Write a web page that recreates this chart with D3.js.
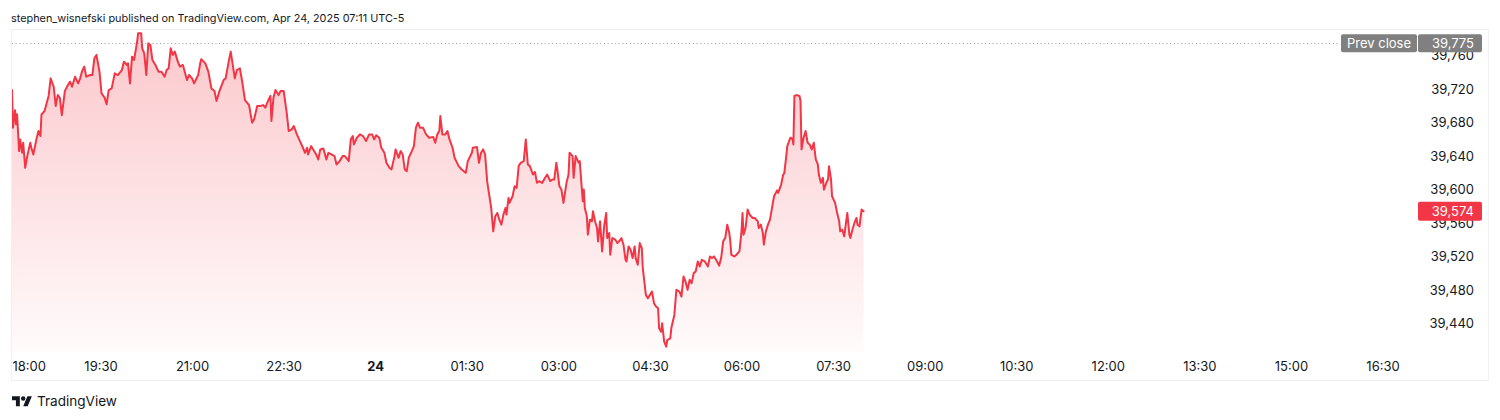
<!DOCTYPE html>
<html><head><meta charset="utf-8">
<script src="https://cdn.jsdelivr.net/npm/d3@7"></script>
<style>
html,body{margin:0;padding:0;background:#fff;}
svg{display:block;font-family:Inter,"Noto Sans",sans-serif;}
</style>
</head><body>
<svg id="chart" width="1500" height="420"></svg>
<script>
// ---- data ----
const headerText = "stephen_wisnefski published on TradingView.com, Apr 24, 2025 07:11 UTC-5";
const brandText = "TradingView";
const prevCloseLabel = "Prev close";
const prevClose = 39775;
const lastPrice = 39574;
const yTickValues = [39440, 39480, 39520, 39560, 39600, 39640, 39680, 39720, 39760];
const xTickLabels = ["18:00","19:30","21:00","22:30","24","01:30","03:00","04:30","06:00","07:30","09:00","10:30","12:00","13:30","15:00","16:30"];
// minutes after the 18:00 session open (Apr 23)
const minutesFromOpen = [
  3,4,6,7,8,10,11,13,14,16,
  18,21,22,24,27,29,31,32,35,39,
  41,44,46,48,50,52,55,58,60,62,
  65,68,70,72,74,76,80,82,84,86,
  89,91,94,96,98,101,104,107,111,113,
  116,117,119,121,123,126,127,130,131,133,
  135,137,139,141,144,147,150,153,155,157,
  159,161,163,166,168,171,175,177,180,182,
  186,188,189,193,196,199,202,204,207,211,
  213,216,218,221,222,224,227,229,232,236,
  239,241,244,247,250,252,255,257,258,260,
  262,265,267,270,273,275,278,280,
  283,286,289,291,293,294,297,299,302,304,
  306,309,312,314,317,320,322,325,328,330,
  333,334,336,338,339,342,345,348,351,354,
  357,359,361,364,366,369,371,374,376,379,
  380,383,385,387,389,391,393,396,398,400,
  402,404,407,410,413,417,419,421,423,424,
  426,429,431,433,436,438,442,445,447,449,
  451,455,456,460,462,464,466,468,470,472,
  474,476,478,480,482,484,486,488,489,491,
  492,495,497,499,501,503,506,508,510,512,
  515,517,519,521,524,527,529,532,534,536,
  538,539,541,543,545,548,550,551,554,555,
  557,560,561,
  563,564,565,566,568,569,571,573,574,576,
  578,579,581,583,585,587,588,590,591,593,
  596,598,601,602,604,606,607,609,611,613,
  615,616,618,620,622,623,626,628,630,632,
  634,636,638,639,641,642,644,646,647,650,
  651,654,656,659,661,663,665,667,669,671,
  673,675,677,679,681,684,687,689,691,693,
  696,698,700,702,704,706,708,709,710,713,
  715,718,720,721,722,724,726,728,731,733,
  736,737,739,741,742,744,746,748,750,752,
  755,756,759,761,762,764,765,768,770,771,
  772,774,777,778,779,781,783,785,787,789,
  791,793,795,796,798,800,801,804,805,806,
  808,809,812,814,816,817,819,821,822,824,
  826,827,829,831,833,834,836,838,840
];
const prices = [
  39719,39674,39695,39678,39690,39646,39660,39644,39656,39626,
  39640,39656,39650,39642,39660,39670,39664,39690,39694,39712,
  39733,39723,39700,39713,39710,39689,39718,39725,39729,39723,
  39735,39727,39733,39742,39747,39735,39737,39737,39757,39761,
  39741,39715,39710,39702,39719,39721,39739,39737,39743,39753,
  39749,39751,39727,39759,39755,39777,39787,39787,39769,39763,
  39737,39775,39773,39755,39749,39741,39741,39735,39743,39745,
  39769,39761,39765,39753,39747,39749,39731,39737,39733,39727,
  39737,39751,39756,39751,39741,39721,39718,39706,39718,39731,
  39733,39753,39765,39741,39733,39743,39745,39731,39707,39701,
  39680,39684,39700,39700,39701,39698,39707,39712,39682,39710,
  39719,39713,39718,39718,39692,39670,39672,39676,
  39666,39658,39650,39644,39650,39642,39652,39648,39642,39636,
  39648,39649,39636,39644,39642,39640,39630,39634,39640,39640,
  39636,39634,39660,39664,39654,39662,39666,39664,39658,39666,
  39666,39660,39665,39662,39650,39644,39632,39626,39624,39640,
  39648,39638,39646,39642,39624,39622,39638,39646,39652,39674,
  39680,39674,39674,39666,39662,39663,39656,39666,39670,39688,
  39666,39666,39670,39660,39650,39638,39628,39624,39622,39620,
  39634,39644,39650,39651,39632,39644,39648,39642,39610,39594,
  39578,39550,39568,39572,39564,39558,39570,39578,39570,39590,
  39584,39592,39604,39602,39628,39632,39634,39660,39630,39628,
  39618,39621,39608,39610,39608,39614,39618,39610,39612,39612,
  39632,39624,39604,39600,39584,39608,39618,39644,39640,39614,
  39640,39632,39634,
  39602,39586,39600,39578,39568,39546,39564,39562,39574,39562,
  39554,39538,39562,39526,39556,39572,39542,39548,39522,39542,
  39540,39536,39540,39542,39534,39516,39514,39532,39528,39518,
  39532,39518,39510,39536,39530,39506,39474,39470,39474,39478,
  39464,39460,39458,39434,39430,39440,39418,39412,39420,39422,
  39434,39450,39480,39478,39472,39496,39490,39480,39492,39488,
  39500,39502,39514,39508,39516,39514,39508,39520,39518,39520,
  39514,39509,39518,39538,39542,39558,39548,39538,39522,39520,
  39522,39526,39550,39572,39546,39554,39576,39570,39566,39566,
  39562,39554,39558,39548,39534,39550,39558,39564,39578,39592,
  39599,39596,39606,39618,39619,39640,39652,39662,39661,39654,
  39712,39713,39712,39706,39648,39662,39670,39656,39654,39648,
  39656,39636,39630,39618,39608,39614,39600,39610,39612,39628,
  39612,39592,39584,39572,39562,39550,39552,39544,39554,39572,
  39546,39542,39552,39560,39566,39558,39556,39576,39574
];

// ---- layout ----
const W = 1500, H = 420;
const frame = {left: 11, top: 29, right: 1489, bottom: 381};
const pane = {left: 11, top: 29, right: 1418, bottom: 352};
const textColor = "#131722";
const red = "#f23645";

const svg = d3.select("#chart");
const sessionOpen = new Date(2025, 3, 23, 18, 0);
const addMin = (m) => new Date(sessionOpen.getTime() + m * 60000);
const data = minutesFromOpen.map((m, i) => ({t: addMin(m), p: prices[i]}));

const x = d3.scaleTime().domain([sessionOpen, addMin(1350)]).range([8.93, 1382.5]);
const y = d3.scaleLinear().domain([39440, 39760]).range([323.3, 55.8]);

// header
const header = svg.append("text").attr("x", 11).attr("y", 21.5)
  .attr("fill", textColor).attr("font-size", 13).text(headerText);
function fit(sel, target) {
  const w = sel.node().getComputedTextLength();
  const fs = +sel.attr("font-size");
  sel.attr("font-size", fs * target / w);
}
fit(header, 394);

// frame
svg.append("rect").attr("x", frame.left + 0.5).attr("y", frame.top + 0.5)
  .attr("width", frame.right - frame.left - 1).attr("height", frame.bottom - frame.top - 1)
  .attr("fill", "none").attr("stroke", "#eef0f3").attr("stroke-width", 1);

// clip
const defs = svg.append("defs");
defs.append("clipPath").attr("id", "paneClip").append("rect")
  .attr("x", pane.left + 1).attr("y", pane.top + 1)
  .attr("width", pane.right - pane.left - 1).attr("height", pane.bottom - pane.top - 1);
const grad = defs.append("linearGradient").attr("id", "areaGrad")
  .attr("gradientUnits", "userSpaceOnUse").attr("x1", 0).attr("x2", 0)
  .attr("y1", pane.top).attr("y2", pane.bottom);
grad.append("stop").attr("offset", 0).attr("stop-color", red).attr("stop-opacity", 0.28);
grad.append("stop").attr("offset", 1).attr("stop-color", red).attr("stop-opacity", 0.02);

const plot = svg.append("g").attr("clip-path", "url(#paneClip)");

plot.append("path").datum(data)
  .attr("fill", "url(#areaGrad)")
  .attr("d", d3.area().x(d => x(d.t)).y0(pane.bottom).y1(d => y(d.p)));

plot.append("path").datum(data)
  .attr("fill", "none").attr("stroke", red).attr("stroke-width", 2)
  .attr("stroke-linejoin", "round").attr("stroke-linecap", "round")
  .attr("d", d3.line().x(d => x(d.t)).y(d => y(d.p)));

// prev close dotted line
const pcY = Math.round(y(prevClose)) + 0.5;
svg.append("line").attr("x1", pane.left + 1).attr("x2", 1340).attr("y1", pcY).attr("y2", pcY)
  .attr("stroke", "#9a9ca3").attr("stroke-width", 1).attr("stroke-dasharray", "1,2.7");

// x axis
const xTickDates = xTickLabels.map((_, i) => addMin(i * 90));
const xAxis = svg.append("g").attr("transform", `translate(0,${pane.bottom})`)
  .call(d3.axisBottom(x).tickValues(xTickDates).tickFormat((d, i) => xTickLabels[i]).tickSize(0).tickPadding(0));
xAxis.select(".domain").remove();
xAxis.selectAll("text").attr("fill", textColor).attr("font-size", 13)
  .attr("font-family", "Inter, 'Noto Sans', sans-serif")
  .attr("dy", null).attr("y", 19)
  .attr("font-weight", (d, i) => xTickLabels[i] === "24" ? 700 : 400);
// keep first label inside the pane, as TradingView does
xAxis.selectAll(".tick").each(function(d, i) {
  const t = d3.select(this).select("text");
  const w = t.node().getComputedTextLength();
  const cx = x(d);
  if (cx - w / 2 < pane.left + 1) t.attr("x", pane.left + 1 + w / 2 - cx);
});

// y axis
const yAxis = svg.append("g").attr("transform", "translate(1474,0)")
  .call(d3.axisRight(y).tickValues(yTickValues).tickFormat(d3.format(",")).tickSize(0).tickPadding(0));
yAxis.select(".domain").remove();
yAxis.selectAll("text").attr("fill", textColor).attr("font-size", 13)
  .attr("font-family", "Inter, 'Noto Sans', sans-serif")
  .attr("text-anchor", "end").attr("x", 0);

// prev close labels
const pcG = svg.append("g");
pcG.append("rect").attr("x", 1341).attr("y", y(prevClose) - 9).attr("width", 76).attr("height", 18)
  .attr("rx", 2).attr("fill", "#808080");
pcG.append("rect").attr("x", 1418).attr("y", y(prevClose) - 9).attr("width", 64).attr("height", 18)
  .attr("rx", 2).attr("fill", "#808080");
pcG.append("text").attr("x", 1379).attr("y", y(prevClose)).attr("dy", "0.35em")
  .attr("text-anchor", "middle").attr("fill", "#fff").attr("font-size", 13).text(prevCloseLabel);
pcG.append("text").attr("x", 1474).attr("y", y(prevClose)).attr("dy", "0.35em")
  .attr("text-anchor", "end").attr("fill", "#fff").attr("font-size", 13).text(d3.format(",")(prevClose));

// last price label
const lpG = svg.append("g");
lpG.append("rect").attr("x", 1418).attr("y", y(lastPrice) - 9.5).attr("width", 64).attr("height", 19)
  .attr("rx", 2).attr("fill", red);
lpG.append("text").attr("x", 1474).attr("y", y(lastPrice)).attr("dy", "0.35em")
  .attr("text-anchor", "end").attr("fill", "#fff").attr("font-size", 13).text(d3.format(",")(lastPrice));

// TradingView brand
const logo = svg.append("g").attr("transform", "translate(12,394) scale(0.56)").attr("fill", textColor);
logo.append("path").attr("d", "M14 22H7V11H0V4h14v18zM28 22h-8l7.5-18h8L28 22z");
logo.append("circle").attr("cx", 20).attr("cy", 8).attr("r", 4);
const brand = svg.append("text").attr("x", 37).attr("y", 405.5).attr("fill", textColor)
  .attr("font-size", 14).text(brandText);
fit(brand, 80);
</script>
</body></html>
